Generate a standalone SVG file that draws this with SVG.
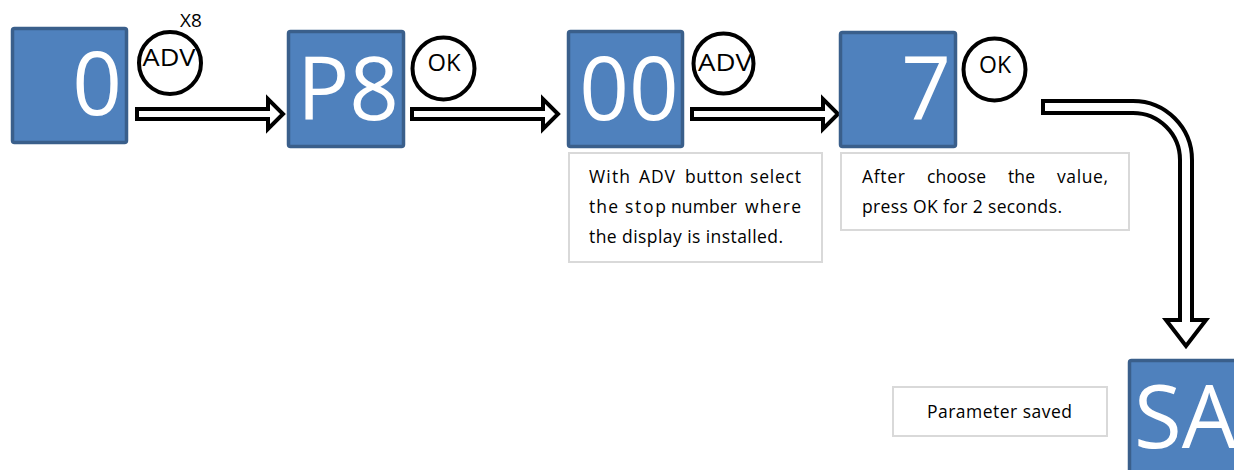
<svg xmlns="http://www.w3.org/2000/svg" width="1234" height="470" viewBox="0 0 1234 470">
<style>
.box{fill:#4F81BD;stroke:#3A5F8B;stroke-width:3.5}
.big{font-family:"Open Sans","Noto Sans",sans-serif;font-size:87px;fill:#FFFFFF;text-anchor:middle}
.btn{fill:none;stroke:#000;stroke-width:4}
.bt{font-family:"Open Sans","Noto Sans",sans-serif;font-size:23px;fill:#000;text-anchor:middle}
.note{fill:#FFFFFF;stroke:#D9D9D9;stroke-width:2}
.nt{font-family:"Open Sans","Noto Sans",sans-serif;font-size:17.5px;fill:#000}
.arr{fill:#FFFFFF;stroke:#000;stroke-width:4;stroke-linejoin:miter}
</style>
<rect width="1234" height="470" fill="#FFFFFF"/>
<g id="connectors">
<path class="arr" d="M137 109 H268 V99 L283 114 L268 129 V119 H137 Z"/>
<path class="arr" d="M412 109 H543 V99 L558 114 L543 129 V119 H412 Z"/>
<path class="arr" d="M692 109 H823 V99 L838 114 L823 129 V119 H692 Z"/>
<path class="arr" d="M1043 101 H1133 A59 59 0 0 1 1192 160 V320 H1206 L1186 346 L1166 320 H1180 V160 A47 47 0 0 0 1133 113 H1043 Z"/>
</g>
<g id="node-0">
<rect class="box" x="12.5" y="28.5" width="114" height="114" rx="2"/>
<text class="big" x="97" y="115">0</text>
</g>
<g id="btn-adv-1">
<circle class="btn" cx="170" cy="63" r="31"/>
<text class="bt" x="169" y="66" textLength="53" lengthAdjust="spacingAndGlyphs">ADV</text>
<text x="191" y="27" font-family="Open Sans, Noto Sans, sans-serif" font-size="19" text-anchor="middle">X8</text>
</g>
<g id="node-p8">
<rect class="box" x="288.5" y="31.5" width="115" height="115" rx="2"/>
<text class="big" x="348" y="120">P8</text>
</g>
<g id="btn-ok-1">
<circle class="btn" cx="443.5" cy="68.5" r="31"/>
<text class="bt" x="444" y="71" font-size="24" textLength="33" lengthAdjust="spacingAndGlyphs">OK</text>
</g>
<g id="node-00">
<rect class="box" x="568.5" y="31.5" width="114" height="115" rx="2"/>
<text class="big" x="629" y="120">00</text>
</g>
<g id="btn-adv-2">
<circle class="btn" cx="723.5" cy="63.5" r="30"/>
<text class="bt" x="725" y="71" textLength="54" lengthAdjust="spacingAndGlyphs">ADV</text>
</g>
<g id="note-1">
<rect class="note" x="569" y="153" width="253" height="109"/>
<text class="nt" y="183"><tspan x="589" textLength="41">With</tspan><tspan x="639" textLength="36">ADV</tspan><tspan x="685" textLength="58">button</tspan><tspan x="750" textLength="51">select</tspan></text>
<text class="nt" y="213"><tspan x="589" textLength="29">the</tspan><tspan x="625" textLength="41">stop</tspan><tspan x="671" textLength="66">number</tspan><tspan x="745" textLength="56">where</tspan></text>
<text class="nt" x="589" y="243" textLength="194">the display is installed.</text>
</g>
<g id="node-7">
<rect class="box" x="840.5" y="32.5" width="115" height="114" rx="2"/>
<text class="big" x="926" y="119">7</text>
</g>
<g id="btn-ok-2">
<circle class="btn" cx="994.5" cy="69.5" r="31"/>
<text class="bt" x="995" y="73" font-size="24" textLength="32" lengthAdjust="spacingAndGlyphs">OK</text>
</g>
<g id="note-2">
<rect class="note" x="841" y="153" width="288" height="77"/>
<text class="nt" y="183"><tspan x="862" textLength="43">After</tspan><tspan x="927" textLength="59">choose</tspan><tspan x="1008" textLength="27">the</tspan><tspan x="1057" textLength="51">value,</tspan></text>
<text class="nt" x="862" y="213" textLength="200">press OK for 2 seconds.</text>
</g>
<g id="node-sa">
<rect class="box" x="1129.5" y="360.5" width="120" height="120" rx="2"/>
<text class="big" x="1134" y="448" style="text-anchor:start" font-size="84">SA</text>
</g>
<g id="note-3">
<rect class="note" x="893" y="387" width="214" height="49"/>
<text class="nt" x="927" y="418" textLength="145">Parameter saved</text>
</g>
</svg>
